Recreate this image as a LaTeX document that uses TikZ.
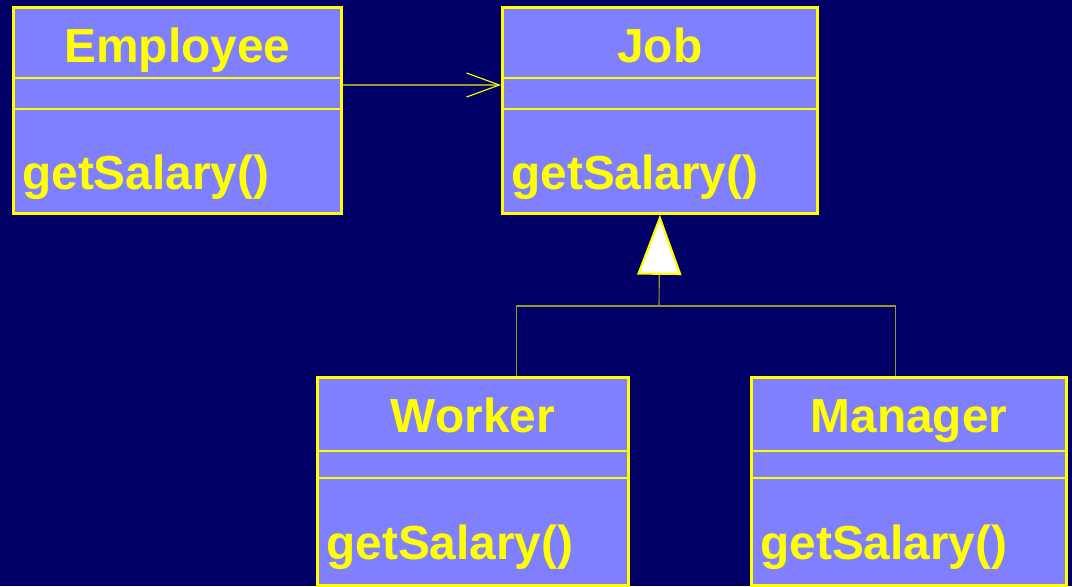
\documentclass[tikz,border=0pt]{standalone}
\usepackage{fontspec}
\setmainfont{Liberation Sans}
\usetikzlibrary{arrows.meta,positioning}
\definecolor{slidebg}{HTML}{000066}
\definecolor{classfill}{HTML}{8080FF}
\definecolor{umlyellow}{HTML}{FFFF00}

\def\px{0.025cm}

\tikzset{
  classbox/.style={draw=umlyellow, fill=classfill, line width=2pt,
    inner sep=0pt, anchor=north west},
  divider/.style={draw=umlyellow, line width=2pt},
  classname/.style={text=umlyellow, inner sep=0pt, anchor=base,
    font=\bfseries\fontsize{34}{40}\selectfont},
  opname/.style={text=umlyellow, inner sep=0pt, anchor=base west,
    font=\bfseries\fontsize{34}{40}\selectfont},
  assoc/.style={draw=umlyellow!60!slidebg, line width=0.8pt,
    -{Straight Barb[length=0.82cm, width=0.6cm, color=umlyellow, line width=0.8pt]}},
  genline/.style={draw=umlyellow!60!slidebg, line width=0.8pt},
}

% class box: name, x, y, width, height, divider 1, divider 2, title
\newcommand{\umlclass}[8]{%
  \node[classbox, minimum width=#4*\px, minimum height=#5*\px] (#1) at (#2,#3) {};
  \draw[divider] ([yshift=-#6*\px]#1.north west) -- ([yshift=-#6*\px]#1.north east);
  \draw[divider] ([yshift=-#7*\px]#1.north west) -- ([yshift=-#7*\px]#1.north east);
  \node[classname] (#1-name) at ([yshift=-56*\px]#1.north) {#8};
  \node[opname] (#1-op) at ([xshift=10*\px, yshift=-183*\px]#1.north west) {getSalary()};
}

\begin{document}
\begin{tikzpicture}[x=0.025cm, y=-0.025cm]
  % slide background
  \fill[slidebg] (0,0) rectangle (1072,586);
  \useasboundingbox (0,0) rectangle (1072,586);

  % classes
  \umlclass{emp}{12}{6}{328}{206}{72}{103}{Employee}
  \umlclass{job}{501}{6}{315}{206}{72}{103}{Job}
  \umlclass{wrk}{316}{376}{311}{208}{75}{102}{Worker}
  \umlclass{mgr}{750}{376}{315}{208}{75}{102}{Manager}

  % association Employee -> Job
  \draw[assoc] ([yshift=-79*\px]emp.north east) -- ([yshift=-79*\px]job.north west);

  % generalization Worker, Manager -> Job
  \coordinate (fork) at (659,306);
  \draw[genline] ([xshift=44*\px]wrk.north) |- (fork) -| ([xshift=-13*\px]mgr.north);
  \draw[genline, -{Triangle[length=1.5cm, width=1.1cm, fill=white,
      color=umlyellow, line width=1.6pt]}] (fork) -- (job.south);
\end{tikzpicture}
\end{document}
